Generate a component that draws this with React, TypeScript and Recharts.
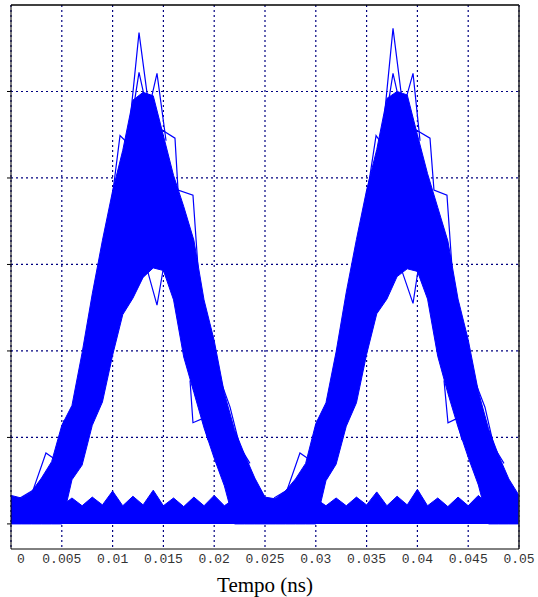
import { ComposedChart, Area, Line, XAxis, YAxis, CartesianGrid, ReferenceLine } from 'recharts'

// sample instants (ns)
const time = [
  0, 0.001, 0.002, 0.003, 0.004, 0.005, 0.006, 0.007, 0.008, 0.009,
  0.01, 0.011, 0.012, 0.013, 0.014, 0.015, 0.016, 0.017, 0.018, 0.019,
  0.02, 0.021, 0.022, 0.023, 0.024, 0.025, 0.026, 0.027, 0.028, 0.029,
  0.03, 0.031, 0.032, 0.033, 0.034, 0.035, 0.036, 0.037, 0.038, 0.039,
  0.04, 0.041, 0.042, 0.043, 0.044, 0.045, 0.046, 0.047, 0.048, 0.049, 0.05,
]

// envelope of the "1" traces
const oneLow = [
  0, 0, 0, 0, 0, 0, 0.51, 0.68, 1.14, 1.41,
  1.95, 2.42, 2.61, 2.85, 2.96, 2.93, 2.59, 1.93, 1.52, 1.11,
  0.76, 0.44, 0, 0, 0, 0, 0, 0, 0, 0,
  0, 0.5, 0.69, 1.13, 1.4, 1.96, 2.43, 2.6, 2.86, 2.95,
  2.92, 2.6, 1.94, 1.51, 1.12, 0.77, 0.45, 0, 0, 0, 0,
]
const oneHigh = [
  0.33, 0.3, 0.37, 0.53, 0.72, 1.14, 1.37, 1.98, 2.66, 3.28,
  3.85, 4.32, 4.9, 4.99, 4.95, 4.49, 4.03, 3.67, 3.28, 2.59,
  2.12, 1.51, 1.09, 0.8, 0.53, 0.31, 0.29, 0.38, 0.52, 0.7,
  1.16, 1.4, 1.99, 2.68, 3.29, 3.86, 4.33, 4.92, 5.0, 4.96,
  4.5, 4.05, 3.66, 3.27, 2.6, 2.13, 1.53, 1.1, 0.79, 0.52, 0.33,
]

// top edge of the "0" traces
const zeroHigh = [
  0.26, 0.21, 0.3, 0.22, 0.29, 0.21, 0.3, 0.21, 0.31, 0.22,
  0.38, 0.21, 0.32, 0.22, 0.39, 0.21, 0.3, 0.2, 0.31, 0.21,
  0.33, 0.21, 0.29, 0.22, 0.3, 0.21, 0.29, 0.21, 0.3, 0.22,
  0.29, 0.21, 0.3, 0.21, 0.31, 0.22, 0.37, 0.21, 0.32, 0.22,
  0.4, 0.21, 0.3, 0.2, 0.31, 0.21, 0.33, 0.21, 0.29, 0.22, 0.27,
]

// stray traces sticking out of the mass: [time, amplitude]
const strayTraces: number[][][] = [
  [[0.01132, 4.2], [0.0126, 5.68], [0.01368, 4.72]],
  [[0.01171, 4.55], [0.0126, 5.22], [0.01348, 4.75], [0.01437, 5.21], [0.01526, 4.43]],
  [[0.00974, 3.57], [0.01073, 4.49], [0.01142, 4.41], [0.01201, 4.78]],
  [[0.01467, 4.57], [0.01614, 4.46], [0.01644, 3.86], [0.01791, 3.8], [0.01841, 2.96]],
  [[0.00089, 0.3], [0.00217, 0.39], [0.00344, 0.82], [0.00443, 0.74], [0.00522, 1.2]],
  [[0.01329, 2.99], [0.01437, 2.53], [0.01496, 2.93]],
  [[0.01762, 1.66], [0.01791, 1.17], [0.0189, 1.22], [0.01939, 0.97]],
  [[0.02037, 1.74], [0.02156, 1.35], [0.02254, 0.89], [0.02352, 0.7]],
  [[0.03632, 4.2], [0.0376, 5.73], [0.03868, 4.72]],
  [[0.03671, 4.55], [0.0376, 5.21], [0.03848, 4.75], [0.03957, 5.21], [0.04026, 4.43]],
  [[0.03474, 3.57], [0.03593, 4.49], [0.03642, 4.41], [0.03701, 4.78]],
  [[0.03967, 4.57], [0.04124, 4.46], [0.04163, 3.86], [0.04291, 3.8], [0.04341, 2.96]],
  [[0.02589, 0.3], [0.02717, 0.39], [0.02844, 0.82], [0.02943, 0.74], [0.03022, 1.2]],
  [[0.03829, 2.99], [0.03957, 2.55], [0.04006, 2.93]],
  [[0.04262, 1.66], [0.04301, 1.17], [0.0439, 1.22], [0.04439, 0.97]],
  [[0.04537, 1.74], [0.04665, 1.35], [0.04754, 0.89], [0.04852, 0.7]],
]

const xTicks = [0, 0.005, 0.01, 0.015, 0.02, 0.025, 0.03, 0.035, 0.04, 0.045, 0.05]
const xTickLabels = ['0', '0.005', '0.01', '0.015', '0.02', '0.025', '0.03', '0.035', '0.04', '0.045', '0.05']
const yTicks = [0, 1, 2, 3, 4, 5]
const yGrid = [1, 2, 3, 4, 5]

const rows = time.map((t, i) => ({
  t,
  one: [oneLow[i], oneHigh[i]],
  zero: zeroHigh[i],
}))

const BLUE = '#0000ff'

function TimeTick({ x, y, payload, index }: any) {
  const shift = payload.value === 0 ? 10 : 0
  return (
    <text
      x={x + shift}
      y={y}
      dy="0.71em"
      textAnchor="middle"
      fontFamily="'Liberation Mono', monospace"
      fontSize={13}
      fill="#333"
    >
      {xTickLabels[index]}
    </text>
  )
}

export default function App() {
  return (
    <div style={{ position: 'absolute', left: 0, top: 0, background: '#fff' }}>
      <ComposedChart
        width={538}
        height={597}
        data={rows}
        margin={{ top: 5, right: 19, left: 10, bottom: 0 }}
      >
        <CartesianGrid
          stroke="#000080"
          strokeDasharray="2 3"
          strokeWidth={1.2}
          horizontalValues={yGrid}
          verticalValues={xTicks}
        />
        <XAxis
          dataKey="t"
          type="number"
          domain={[0, 0.05]}
          ticks={xTicks}
          interval={0}
          height={48}
          tickLine={false}
          tickSize={3}
          tickMargin={2}
          tick={<TimeTick />}
          axisLine={{ stroke: '#000' }}
          label={{
            value: 'Tempo (ns)',
            position: 'insideBottom',
            offset: 5,
            style: { fontFamily: "'Liberation Serif', serif", fontSize: 21, fill: '#000' },
          }}
        />
        <YAxis
          type="number"
          domain={[-0.29, 6]}
          ticks={yTicks}
          interval={0}
          width={1}
          tick={() => <g />}
          tickSize={4}
          tickLine={{ stroke: '#000' }}
          axisLine={{ stroke: '#000' }}
        />
        <ReferenceLine y={6} stroke="#000" strokeWidth={1.5} />
        <ReferenceLine x={0.05} stroke="#222" strokeWidth={1.5} />
        <Area
          dataKey="zero"
          baseValue={0}
          type="linear"
          fill={BLUE}
          fillOpacity={1}
          stroke={BLUE}
          strokeWidth={1}
          isAnimationActive={false}
        />
        <Area
          dataKey="one"
          type="linear"
          fill={BLUE}
          fillOpacity={1}
          stroke={BLUE}
          strokeWidth={1}
          isAnimationActive={false}
        />
        {strayTraces.map((trace, i) => (
          <Line
            key={i}
            data={trace.map(([t, v]) => ({ t, v }))}
            dataKey="v"
            type="linear"
            stroke={BLUE}
            strokeWidth={1.2}
            dot={false}
            isAnimationActive={false}
          />
        ))}
      </ComposedChart>
    </div>
  )
}
